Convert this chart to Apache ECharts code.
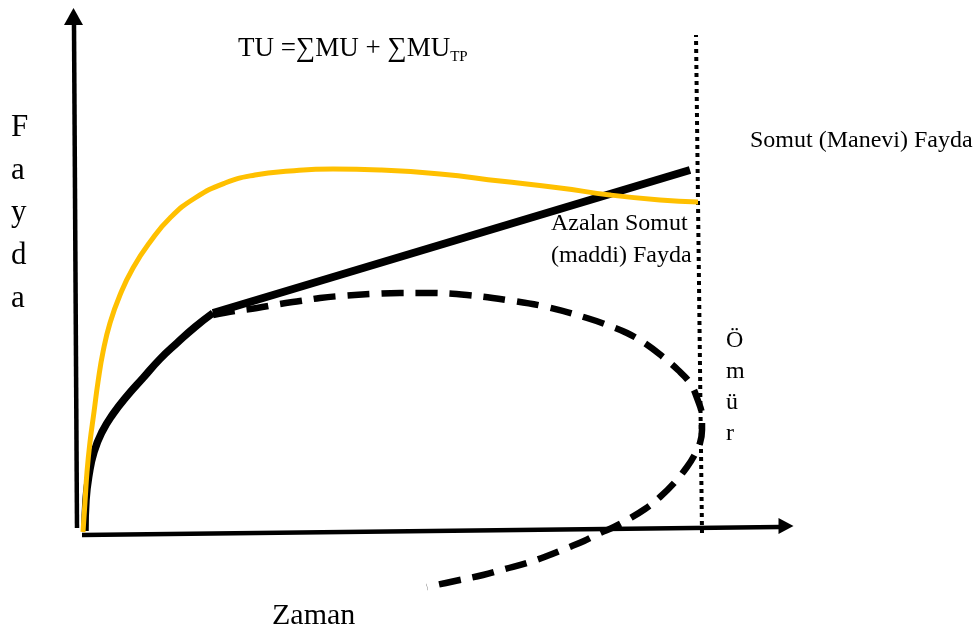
<!DOCTYPE html>
<html>
<head>
<meta charset="utf-8">
<script src="https://cdn.jsdelivr.net/npm/echarts@6/dist/echarts.min.js"></script>
<style>
html,body{margin:0;padding:0;background:#fff;}
#c{width:976px;height:633px;}
</style>
</head>
<body>
<div id="c"></div>
<script>
// Conceptual diagram data: x = Zaman (time), y = Fayda (utility)
var yAxisLine = [[-5, 5], [-8, 508]];
var yAxisArrow = [[-8.5, 516.5]];
var xAxisLine = [[0, -2], [698, 6]];
var xAxisArrow = [[704, 7]];

// Toplam fayda (TU) – yellow curve
var totalUtility = [[1,1],[3,31],[5,61],[8,91],[12,121],[16,151],[21,181],[28,210],[38,238],[51,265],[68,291],[88,315],[113,335],[143,350],[173,358],[208,362],[251,364],[298,363],[358,359],[418,352],[478,345],[528,338],[578,333],[616,331]];

// Somut (Manevi) Fayda – black curve, then straight segment
var tangibleCurve = [[3,2],[4,33],[7,58],[12,81],[20,101],[31,119],[45,137],[61,155],[78,174],[95,190],[113,206],[131,220]];
var tangibleLine = [[131,220],[608,363]];

// Azalan Somut (maddi) Fayda – dashed curve
var decreasingUtility = [[131,218],[153,222],[175,225],[198,229],[218,232],[238,235],[258,237],[288,239],[318,240],[348,240],[385,238],[425,233],[465,226],[505,215],[528,207],[545,200],[564,189],[581,176],[596,163],[608,150],[615,135],[620,116],[620,103],[618,90],[612,77],[605,66],[593,51],[578,36],[563,24],[545,13],[532,6],[518,0],[502,-8],[485,-15],[465,-23],[445,-30],[423,-36],[401,-42],[373,-48],[345,-54]];

// Ömür (lifetime) – dotted vertical
var lifetime = [[620,0],[614,498]];

var chart = echarts.init(document.getElementById('c'), null, {renderer:'canvas'});
var serif = '"Liberation Serif", "DejaVu Serif", serif';

function line(data, color, width, type, smooth, z) {
  return {type:'line', data:data, symbol:'none', smooth:smooth, smoothMonotone:null,
    lineStyle:{color:color, width:width, type:type, cap:'butt', join:'round', opacity:1}, z:z, silent:true};
}

chart.setOption({
  animation:false,
  grid:{left:0,right:0,top:0,bottom:0,containLabel:false},
  xAxis:{type:'value', min:-82, max:894, show:false},
  yAxis:{type:'value', min:-100, max:533, show:false},
  series:[
    line(yAxisLine,'#000',4.5,'solid',false,2),
    line(xAxisLine,'#000',4.5,'solid',false,2),
    {type:'scatter', data:yAxisArrow, symbol:'triangle', symbolSize:[19,17], itemStyle:{color:'#000', opacity:1}, z:2, silent:true},
    {type:'scatter', data:xAxisArrow, symbol:'triangle', symbolSize:[16,15], symbolRotate:-90, itemStyle:{color:'#000', opacity:1}, z:2, silent:true},
    line(lifetime,'#000',4,[4,4],false,3),
    line(decreasingUtility,'#000',6.5,[22,12],0.4,4),
    line(tangibleCurve,'#000',7.5,'solid',0.5,5),
    line(tangibleLine,'#000',8,'solid',false,5),
    line(totalUtility,'#FFC000',5,'solid',0.5,6)
  ],
  graphic:[
    {type:'text', left:238, top:35, style:{text:'{a|TU =∑MU + ∑MU}{b|TP}', rich:{a:{fontSize:27, fontFamily:serif, fill:'#000', lineHeight:32}, b:{fontSize:15, fontFamily:serif, fill:'#000', verticalAlign:'bottom', lineHeight:32}}}},
    {type:'text', x:11, y:128, style:{text:'F', font:'31px '+serif, fill:'#000', verticalAlign:'middle'}},
    {type:'text', x:11, y:171, style:{text:'a', font:'31px '+serif, fill:'#000', verticalAlign:'middle'}},
    {type:'text', x:11, y:213, style:{text:'y', font:'31px '+serif, fill:'#000', verticalAlign:'middle'}},
    {type:'text', x:11, y:256, style:{text:'d', font:'31px '+serif, fill:'#000', verticalAlign:'middle'}},
    {type:'text', x:11, y:299, style:{text:'a', font:'31px '+serif, fill:'#000', verticalAlign:'middle'}},
    {type:'text', x:750, y:141, style:{text:'Somut (Manevi) Fayda', font:'24px '+serif, fill:'#000', verticalAlign:'middle'}},
    {type:'text', x:551, y:224, style:{text:'Azalan Somut', font:'24px '+serif, fill:'#000', verticalAlign:'middle'}},
    {type:'text', x:551, y:256, style:{text:'(maddi) Fayda', font:'24px '+serif, fill:'#000', verticalAlign:'middle'}},
    {type:'text', x:726, y:341, style:{text:'Ö', font:'24px '+serif, fill:'#000', verticalAlign:'middle'}},
    {type:'text', x:726, y:372, style:{text:'m', font:'24px '+serif, fill:'#000', verticalAlign:'middle'}},
    {type:'text', x:726, y:403, style:{text:'ü', font:'24px '+serif, fill:'#000', verticalAlign:'middle'}},
    {type:'text', x:726, y:434, style:{text:'r', font:'24px '+serif, fill:'#000', verticalAlign:'middle'}},
    {type:'text', x:272, y:616, style:{text:'Zaman', font:'30px '+serif, fill:'#000', verticalAlign:'middle'}}
  ]
});
</script>
</body>
</html>
